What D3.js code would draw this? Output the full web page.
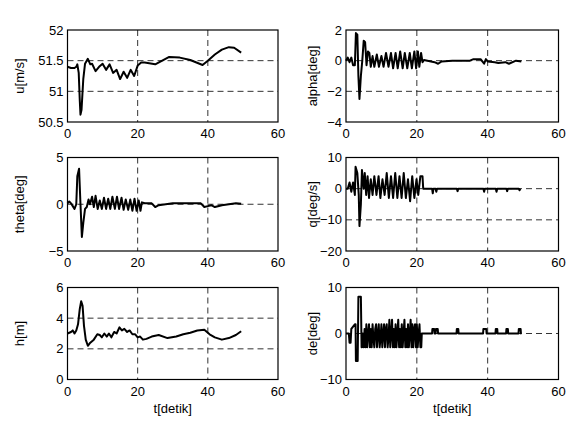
<!DOCTYPE html>
<html>
<head>
<meta charset="utf-8">
<script src="https://cdn.jsdelivr.net/npm/d3@7"></script>
<style>
  body { margin: 0; background: #fff; }
  svg text { font-family: "Liberation Sans", Arial, Helvetica, sans-serif; fill: #000; }
</style>
</head>
<body>
<svg id="chart" width="581" height="426"></svg>
<script>
// time axis ticks
var xTicks = [0, 20, 40, 60];

// u[m/s]
var uT = [0, 1, 2, 2.5, 2.8, 3.2, 3.5, 3.7, 4.0, 4.5, 5, 5.8, 6.5, 7, 8, 9, 10, 11, 12, 13, 14, 15, 16, 17, 18, 19, 20, 21, 22, 25, 27, 29, 32, 35, 38.5, 40, 42, 44, 46, 47.5, 49.5];
var uV = [51.40, 51.38, 51.38, 51.40, 51.44, 51.30, 50.85, 50.62, 50.70, 51.20, 51.45, 51.53, 51.44, 51.45, 51.33, 51.40, 51.45, 51.35, 51.44, 51.30, 51.35, 51.20, 51.32, 51.22, 51.35, 51.25, 51.42, 51.47, 51.47, 51.44, 51.50, 51.56, 51.55, 51.51, 51.43, 51.50, 51.60, 51.68, 51.72, 51.71, 51.63];

// alpha[deg]
var aT = [0, 0.5, 1, 1.5, 2, 2.5, 2.8, 3.2, 3.5, 3.8, 4.2, 4.6, 5, 5.4, 5.8, 6.2, 6.6, 7, 7.5, 8, 8.7, 9.3, 10, 10.6, 11.3, 12, 12.7, 13.3, 14, 14.6, 15.3, 16, 16.6, 17.3, 18, 18.6, 19.3, 19.8, 20.3, 20.7, 21.2, 21.6, 22, 25, 26, 27, 30, 35, 36, 38, 39, 39.5, 40, 42, 43, 45, 46, 48, 49.5];
var aV = [0, 0.2, -0.1, 0.2, -0.3, -0.3, 1.8, 1.7, -1.0, -2.5, -1.0, 0, 1.3, 1.2, -0.3, 0.6, 0.5, -0.4, 0.3, -0.4, 0.4, -0.4, 0.3, -0.4, 0.5, -0.4, 0.5, -0.5, 0.5, -0.5, 0.6, -0.5, 0.5, -0.5, 0.5, -0.5, 0.6, -0.5, 0.6, -0.4, 0.5, -0.1, 0.05, -0.1, -0.2, -0.05, 0, 0, 0.1, 0.1, -0.2, 0.1, -0.05, -0.1, -0.15, -0.1, -0.2, 0, -0.05];

// theta[deg]
var thT = [0, 0.5, 1, 1.5, 2, 2.5, 2.8, 3.3, 3.7, 4.1, 4.5, 5, 5.5, 6, 6.4, 7, 7.5, 8, 8.6, 9.2, 9.8, 10.4, 11, 11.6, 12.2, 12.8, 13.5, 14.1, 14.7, 15.4, 16, 16.6, 17.3, 17.9, 18.5, 19.1, 19.7, 20.3, 20.8, 21.2, 22, 24, 25, 26, 28, 30, 35, 38, 39, 40, 41, 42, 44, 46, 48, 49.5];
var thV = [0.1, 0.3, 0.1, -0.2, -0.5, 0, 3.0, 3.8, 0, -3.5, -2.0, -0.5, -0.3, 0.5, 0, 0.8, -0.3, 0.9, -0.5, 0.4, -0.5, 0.7, -0.5, 0.6, -0.5, 0.8, -0.5, 0.8, -0.5, 0.7, -0.6, 0.5, -0.6, 0.5, -0.7, 0.6, -0.7, 0.4, -0.7, 0.2, 0.1, 0.1, -0.3, -0.1, 0, 0.1, 0.1, 0.1, -0.3, -0.2, -0.1, -0.3, -0.1, 0, 0.1, 0.05];

// q[deg/s]
var qT = [0, 0.5, 1, 1.5, 2, 2.5, 2.7, 3.2, 3.6, 3.8, 4.2, 4.5, 5, 5.3, 5.7, 6.1, 6.5, 7, 7.5, 8, 8.6, 9.2, 9.7, 10.3, 10.9, 11.5, 12.1, 12.7, 13.3, 13.9, 14.5, 15.1, 15.7, 16.3, 16.9, 17.5, 18.1, 18.7, 19.3, 19.9, 20.4, 21, 21.6, 21.8, 24.3, 24.5, 24.7, 25.3, 25.5, 25.7, 31.3, 31.5, 31.7, 38.8, 39, 39.2, 42.3, 42.5, 42.7, 45.3, 45.5, 45.7, 48.8, 49, 49.2];
var qV = [0, 0, 2, -1, 2, -2, 7, 5, -2, -12, -5, 6, 0, 5, -2, 4, -3, 3, -2, 4, -2, 4, -3, 3, -2, 5, -3, 4, -3, 5, -3, 4, -3, 5, -3, 3, -4, 4, -3, 3, -2, 4, 4, 0, 0, -1.5, 0, 0, -1, 0, 0, -0.8, 0, 0, -1, 0, 0, -1, 0, 0, -0.8, 0, 0, -0.5, 0];

// h[m]
var hT = [0, 1, 1.5, 2, 2.5, 3, 3.5, 3.9, 4.3, 4.7, 5.2, 5.8, 6.5, 7.5, 8.5, 9.2, 9.8, 10.5, 11.2, 11.8, 12.5, 13.3, 14, 14.8, 15.5, 16.2, 17, 17.7, 18.5, 19.3, 20, 20.7, 21.5, 22.5, 24, 26, 28.5, 31, 33, 35, 37, 39, 40.5, 42, 44, 46, 48, 49.5];
var hV = [3.0, 3.1, 3.2, 3.0, 3.2, 3.6, 4.6, 5.1, 4.8, 3.5, 2.6, 2.2, 2.4, 2.6, 2.95, 2.9, 2.75, 3.0, 2.8, 3.0, 2.75, 3.1, 3.0, 3.4, 3.2, 3.3, 3.1, 3.2, 2.95, 2.95, 2.75, 2.8, 2.6, 2.65, 2.8, 2.9, 2.7, 2.8, 2.95, 3.05, 3.2, 3.25, 2.95, 2.75, 2.6, 2.7, 2.9, 3.15];

// de[deg]
var deT = [
  0, 0.8, 1.0, 1.3, 1.5, 2.0, 2.5, 2.7, 2.8, 3.3, 3.5, 4.2, 4.4,
  4.5, 4.75, 5.0, 5.25, 5.5, 5.75, 6.0, 6.25,
  6.5, 6.75, 7.0, 7.25, 7.5, 7.75, 8.0, 8.25,
  8.5, 8.75, 9.0, 9.25, 9.5, 9.75, 10.0, 10.25,
  10.5, 10.75, 11.0, 11.25, 11.5, 11.75, 12.0, 12.25,
  12.5, 12.75, 13.0, 13.25, 13.5, 13.75, 14.0, 14.25,
  14.5, 14.75, 15.0, 15.25, 15.5, 15.75, 16.0, 16.25,
  16.5, 16.75, 17.0, 17.25, 17.5, 17.75, 18.0, 18.25,
  18.5, 18.75, 19.0, 19.25, 19.5, 19.75, 20.0, 20.25,
  20.5, 20.75, 21.0, 21.25, 21.4,
  24.3, 24.4, 24.9, 25.0, 25.3, 25.4, 25.9, 26.0,
  31.2, 31.3, 31.7, 31.8, 38.7, 38.8, 39.6, 39.7,
  42.2, 42.3, 42.7, 42.8, 45.2, 45.3, 45.7, 45.8,
  48.7, 48.8, 49.3, 49.4, 49.5
];
var deV = [
  0, 0, -2, -2, 1, 1.5, 2, 2, -6, -6, 8, 8, -3,
  -3, 0, -3, 1, -3, 2, -3, 0,
  2, -3, 1, -3, 2, -1, -3, 1,
  2, -3, 0, 2, -3, -1, 2, -3,
  0, 2, -3, 1, 2, -3, -1, 3,
  -3, 0, 3, -3, 1, -3, 2, -3,
  0, 3, -3, 1, -3, 2, -3, 0,
  3, -3, 1, -3, 2, -3, 0, 3,
  -3, 2, -3, 1, 2, -3, 2, -3,
  0, 2, -3, -3, 0,
  0, 1, 1, 0, 0, 1, 1, 0,
  0, 1, 1, 0, 0, 1, 1, 0,
  0, 1, 1, 0, 0, 1, 1, 0,
  0, 1, 1, 0, 0
];

var panels = [
  { label: 'u[m/s]',     t: uT,  v: uV,  domain: [50.5, 52], ticks: [50.5, 51, 51.5, 52], fmt: d3.format('~g'), col: 0, row: 0 },
  { label: 'alpha[deg]', t: aT,  v: aV,  domain: [-4, 2],    ticks: [-4, -2, 0, 2],        fmt: d3.format('d'),  col: 1, row: 0 },
  { label: 'theta[deg]', t: thT, v: thV, domain: [-5, 5],    ticks: [-5, 0, 5],            fmt: d3.format('d'),  col: 0, row: 1 },
  { label: 'q[deg/s]',   t: qT,  v: qV,  domain: [-20, 10],  ticks: [-20, -10, 0, 10],     fmt: d3.format('d'),  col: 1, row: 1 },
  { label: 'h[m]',       t: hT,  v: hV,  domain: [0, 6],     ticks: [0, 2, 4, 6],          fmt: d3.format('d'),  col: 0, row: 2 },
  { label: 'de[deg]',    t: deT, v: deV, domain: [-10, 10],  ticks: [-10, 0, 10],          fmt: d3.format('d'),  col: 1, row: 2 }
];

var colX = [[67.5, 278], [346, 558.5]];
var rowY = [[30, 122], [157.5, 251], [287.5, 379.5]];
var labelX = [20, 313];

var svg = d3.select('#chart');

panels.forEach(function(p) {
  var x0 = colX[p.col][0], x1 = colX[p.col][1];
  var y0 = rowY[p.row][0], y1 = rowY[p.row][1];
  var x = d3.scaleLinear().domain([0, 60]).range([x0, x1]);
  var y = d3.scaleLinear().domain(p.domain).range([y1, y0]);
  var g = svg.append('g');

  // dashed grid at inner ticks
  g.selectAll('.gx').data(xTicks.slice(1, -1)).enter().append('line')
    .attr('x1', function(d) { return x(d); }).attr('x2', function(d) { return x(d); })
    .attr('y1', y0).attr('y2', y1)
    .attr('stroke', '#333').attr('stroke-width', 1).attr('stroke-dasharray', '6,4');
  g.selectAll('.gy').data(p.ticks.slice(1, -1)).enter().append('line')
    .attr('y1', function(d) { return y(d); }).attr('y2', function(d) { return y(d); })
    .attr('x1', x0).attr('x2', x1)
    .attr('stroke', '#333').attr('stroke-width', 1).attr('stroke-dasharray', '6,4');

  // data line
  var pts = p.t.map(function(t, i) { return [t, p.v[i]]; });
  g.append('path').datum(pts)
    .attr('fill', 'none').attr('stroke', '#000').attr('stroke-width', 2)
    .attr('stroke-linejoin', 'round')
    .attr('d', d3.line().x(function(d) { return x(d[0]); }).y(function(d) { return y(d[1]); }));

  // frame
  g.append('rect').attr('x', x0).attr('y', y0).attr('width', x1 - x0).attr('height', y1 - y0)
    .attr('fill', 'none').attr('stroke', '#000').attr('stroke-width', 1.2);

  // tick labels
  g.selectAll('.tx').data(xTicks).enter().append('text')
    .attr('x', function(d) { return x(d); }).attr('y', y1 + 16)
    .attr('text-anchor', 'middle').style('font-size', '13px')
    .text(function(d) { return d; });
  g.selectAll('.ty').data(p.ticks).enter().append('text')
    .attr('x', x0 - 4).attr('y', function(d) { return y(d) + 4.5; })
    .attr('text-anchor', 'end').style('font-size', '13px')
    .text(function(d) { return p.fmt(d); });

  // y label
  g.append('text')
    .attr('transform', 'translate(' + (labelX[p.col] + 4) + ',' + ((y0 + y1) / 2) + ') rotate(-90)')
    .attr('text-anchor', 'middle').style('font-size', '13px')
    .text(p.label);

  if (p.row === 2) {
    g.append('text')
      .attr('x', (x0 + x1) / 2).attr('y', y1 + 33)
      .attr('text-anchor', 'middle').style('font-size', '13px')
      .text('t[detik]');
  }
});
</script>
</body>
</html>
